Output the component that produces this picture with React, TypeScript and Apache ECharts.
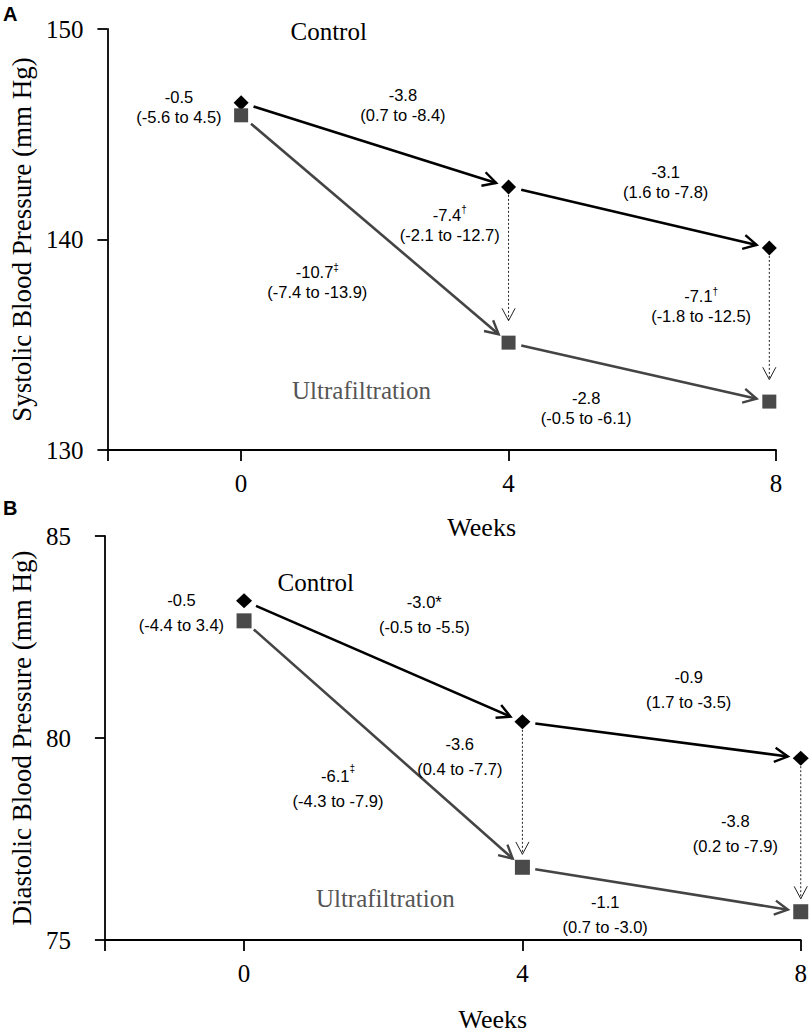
import React, { useEffect, useRef } from "react";
import * as echarts from "echarts";

// ---- data ----
const weekTicks = [0, 4, 8];
const weekEnds = [-2, 0, 4, 8];
// plotted positions of the weeks 0, 4, 8
const sbpWeekPos = [0, 4, 7.9];
const dbpWeekPos = [0, 4, 8];
const sbpControl = [146.5, 142.5, 139.6];
const sbpUltra = [145.9, 135.1, 132.3];
const dbpControl = [83.4, 80.4, 79.5];
const dbpUltra = [82.9, 76.8, 75.7];

const sbpNotes = [
  "-0.5\n(-5.6 to 4.5)",
  "-3.8\n(0.7 to -8.4)",
  "-3.1\n(1.6 to -7.8)",
  "-7.4{sup|†}\n(-2.1 to -12.7)",
  "-10.7{sup|‡}\n(-7.4 to -13.9)",
  "-7.1{sup|†}\n(-1.8 to -12.5)",
  "-2.8\n(-0.5 to -6.1)",
];
const sbpNoteAt = [
  [-0.93, 146.28],
  [2.42, 146.4],
  [6.35, 142.75],
  [3.12, 140.7],
  [1.14, 137.96],
  [6.88, 136.82],
  [5.16, 132.01],
];
const dbpNotes = [
  "-0.5\n(-4.4 to 3.4)",
  "-3.0*\n(-0.5 to -5.5)",
  "-0.9\n(1.7 to -3.5)",
  "-3.6\n(0.4 to -7.7)",
  "-6.1{sup|‡}\n(-4.3 to -7.9)",
  "-3.8\n(0.2 to -7.9)",
  "-1.1\n(0.7 to -3.0)",
];
const dbpNoteAt = [
  [-0.9, 83.1],
  [2.59, 83.05],
  [6.39, 81.19],
  [3.1, 79.54],
  [1.35, 78.74],
  [7.06, 77.64],
  [5.19, 75.63],
];
const groupNames = ["Control", "Ultrafiltration"];
const sbpGroupAt = [
  [1.31, 149.9],
  [1.8, 132.82],
];
const dbpGroupAt = [
  [1.03, 83.86],
  [2.03, 76.03],
];

// ---- styles ----
const SERIF = "'Liberation Serif', 'Times New Roman', serif";
const SANS = "'Liberation Sans', Arial, sans-serif";
const CONTROL_COLOR = "#000000";
const UF_LINE = "#444444";
const UF_MARK = "#4a4a4a";
const UF_TEXT = "#555555";

const pts = (pos: number[], vals: number[]) => pos.map((x, i) => [x, vals[i]]);
const steps = (pos: number[], vals: number[]) => [
  [pos[0], vals[0], pos[1], vals[1]],
  [pos[1], vals[1], pos[2], vals[2]],
];
const diffs = (pos: number[], c: number[], u: number[]) => [
  [pos[1], c[1], pos[1], u[1]],
  [pos[2], c[2], pos[2], u[2]],
];

function arrowSeries(
  gi: number,
  data: number[][],
  stroke: string,
  lineWidth: number,
  dash: number[] | null,
  gap0: number,
  gap1: number,
  head: number,
  headW: number
) {
  return {
    type: "custom",
    xAxisIndex: gi,
    yAxisIndex: gi,
    clip: false,
    silent: true,
    z: 2,
    data,
    encode: { x: [0, 2], y: [1, 3] },
    renderItem: (_params: any, api: any) => {
      const a = api.coord([api.value(0), api.value(1)]);
      const b = api.coord([api.value(2), api.value(3)]);
      const dx = b[0] - a[0];
      const dy = b[1] - a[1];
      const len = Math.hypot(dx, dy) || 1;
      const ux = dx / len;
      const uy = dy / len;
      const s = [a[0] + ux * gap0, a[1] + uy * gap0];
      const e = [b[0] - ux * gap1, b[1] - uy * gap1];
      const ang = (28 * Math.PI) / 180;
      const c = Math.cos(ang);
      const sn = Math.sin(ang);
      const bx = -ux;
      const by = -uy;
      const l = [e[0] + head * (bx * c - by * sn), e[1] + head * (bx * sn + by * c)];
      const r = [e[0] + head * (bx * c + by * sn), e[1] + head * (-bx * sn + by * c)];
      return {
        type: "group",
        children: [
          {
            type: "line",
            shape: { x1: s[0], y1: s[1], x2: e[0], y2: e[1] },
            style: { stroke, lineWidth, lineDash: dash || undefined, fill: null },
          },
          {
            type: "polyline",
            shape: { points: [l, e, r] },
            style: { stroke, lineWidth: headW, fill: null },
          },
        ],
      };
    },
  };
}

function noteSeries(gi: number, texts: string[], at: number[][], lineHeight: number) {
  return {
    type: "scatter",
    xAxisIndex: gi,
    yAxisIndex: gi,
    silent: true,
    symbolSize: 1,
    itemStyle: { color: "transparent", opacity: 1 },
    z: 3,
    data: texts.map((t, i) => ({ value: at[i], text: t })),
    label: {
      show: true,
      position: "inside",
      formatter: (p: any) => p.data.text,
      fontFamily: SANS,
      fontSize: 16.5,
      color: "#000",
      lineHeight,
      align: "center",
      verticalAlign: "middle",
      rich: {
        sup: { fontFamily: SANS, fontSize: 10, verticalAlign: "top", lineHeight: 12, color: "#000" },
      },
    },
  };
}

function groupSeries(gi: number, at: number[][]) {
  return {
    type: "scatter",
    xAxisIndex: gi,
    yAxisIndex: gi,
    silent: true,
    symbolSize: 1,
    itemStyle: { color: "transparent", opacity: 1 },
    z: 3,
    data: groupNames.map((n, i) => ({
      value: at[i],
      text: n,
      label: { color: i === 0 ? "#000" : UF_TEXT },
    })),
    label: {
      show: true,
      position: "inside",
      formatter: (p: any) => p.data.text,
      fontFamily: SERIF,
      fontSize: 25,
    },
  };
}

function xAxis(gi: number, nameGap: number) {
  return {
    type: "value",
    gridIndex: gi,
    min: -2,
    max: 8,
    interval: 2,
    name: "Weeks",
    nameLocation: "middle",
    nameGap,
    nameTextStyle: { fontFamily: SERIF, fontSize: 26, color: "#000", padding: [0, 0, 0, 80] },
    axisLine: { show: true, onZero: false, lineStyle: { color: "#000", width: 1.8 } },
    axisTick: { show: true, length: 11, customValues: weekEnds, lineStyle: { color: "#000", width: 1.8 } },
    axisLabel: { customValues: weekTicks, fontFamily: SERIF, fontSize: 25, color: "#000", margin: 21 },
    splitLine: { show: false },
  };
}

function yAxis(gi: number, name: string, min: number, max: number, interval: number, margin: number, nameGap: number) {
  return {
    type: "value",
    gridIndex: gi,
    min,
    max,
    interval,
    name,
    nameLocation: "middle",
    nameGap,
    nameTextStyle: { fontFamily: SERIF, fontSize: 27, color: "#000" },
    axisLine: { show: true, onZero: false, lineStyle: { color: "#000", width: 1.8 } },
    axisTick: { show: true, length: 10, lineStyle: { color: "#000", width: 1.8 } },
    axisLabel: { fontFamily: SERIF, fontSize: 25, color: "#000", margin },
    splitLine: { show: false },
  };
}

export default function App() {
  const ref = useRef<HTMLDivElement>(null);
  useEffect(() => {
    if (!ref.current) return;
    const chart = echarts.init(ref.current, null, { renderer: "svg" });
    const markerSeries = (gi: number, symbol: string, size: number[], color: string, data: number[][]) => ({
      type: "scatter",
      xAxisIndex: gi,
      yAxisIndex: gi,
      symbol,
      symbolSize: size,
      itemStyle: { color, opacity: 1 },
      z: 4,
      data,
    });
    const option: any = {
      animation: false,
      backgroundColor: "#ffffff",
      grid: [
        { left: 97, top: 29, width: 679, height: 421 },
        { left: 103, top: 536, width: 702, height: 407 },
      ],
      xAxis: [xAxis(0, 64), xAxis(1, 66)],
      yAxis: [
        yAxis(0, "Systolic Blood Pressure (mm Hg)", 130, 150, 10, 24, 59),
        yAxis(1, "Diastolic Blood Pressure (mm Hg)", 75, 85, 5, 34, 63),
      ],
      graphic: [
        { type: "text", left: 3, top: 4, style: { text: "A", font: `bold 20px ${SANS}`, fill: "#000" } },
        { type: "text", left: 3, top: 498, style: { text: "B", font: `bold 20px ${SANS}`, fill: "#000" } },
      ],
      series: [
        // Panel A
        arrowSeries(0, steps(sbpWeekPos, sbpControl), CONTROL_COLOR, 2.6, null, 13, 13, 15, 2.4),
        arrowSeries(0, steps(sbpWeekPos, sbpUltra), UF_LINE, 2.6, null, 13, 13, 15, 2.4),
        arrowSeries(0, diffs(sbpWeekPos, sbpControl, sbpUltra), "#222", 1, [2, 2], 8, 22, 14, 1),
        markerSeries(0, "diamond", [15, 15], CONTROL_COLOR, pts(sbpWeekPos, sbpControl)),
        markerSeries(0, "rect", [14, 14], UF_MARK, pts(sbpWeekPos, sbpUltra)),
        noteSeries(0, sbpNotes, sbpNoteAt, 20),
        groupSeries(0, sbpGroupAt),
        // Panel B
        arrowSeries(1, steps(dbpWeekPos, dbpControl), CONTROL_COLOR, 2.6, null, 13, 13, 15, 2.4),
        arrowSeries(1, steps(dbpWeekPos, dbpUltra), UF_LINE, 2.6, null, 13, 13, 15, 2.4),
        arrowSeries(1, diffs(dbpWeekPos, dbpControl, dbpUltra), "#222", 1, [2, 2], 8, 13, 14, 1),
        markerSeries(1, "diamond", [16, 15], CONTROL_COLOR, pts(dbpWeekPos, dbpControl)),
        markerSeries(1, "rect", [15, 15], UF_MARK, pts(dbpWeekPos, dbpUltra)),
        noteSeries(1, dbpNotes, dbpNoteAt, 25),
        groupSeries(1, dbpGroupAt),
      ],
    };
    chart.setOption(option);
    return () => chart.dispose();
  }, []);
  return (
    <div
      ref={ref}
      style={{ position: "absolute", left: 0, top: 0, width: 810, height: 1033, background: "#fff" }}
    />
  );
}
